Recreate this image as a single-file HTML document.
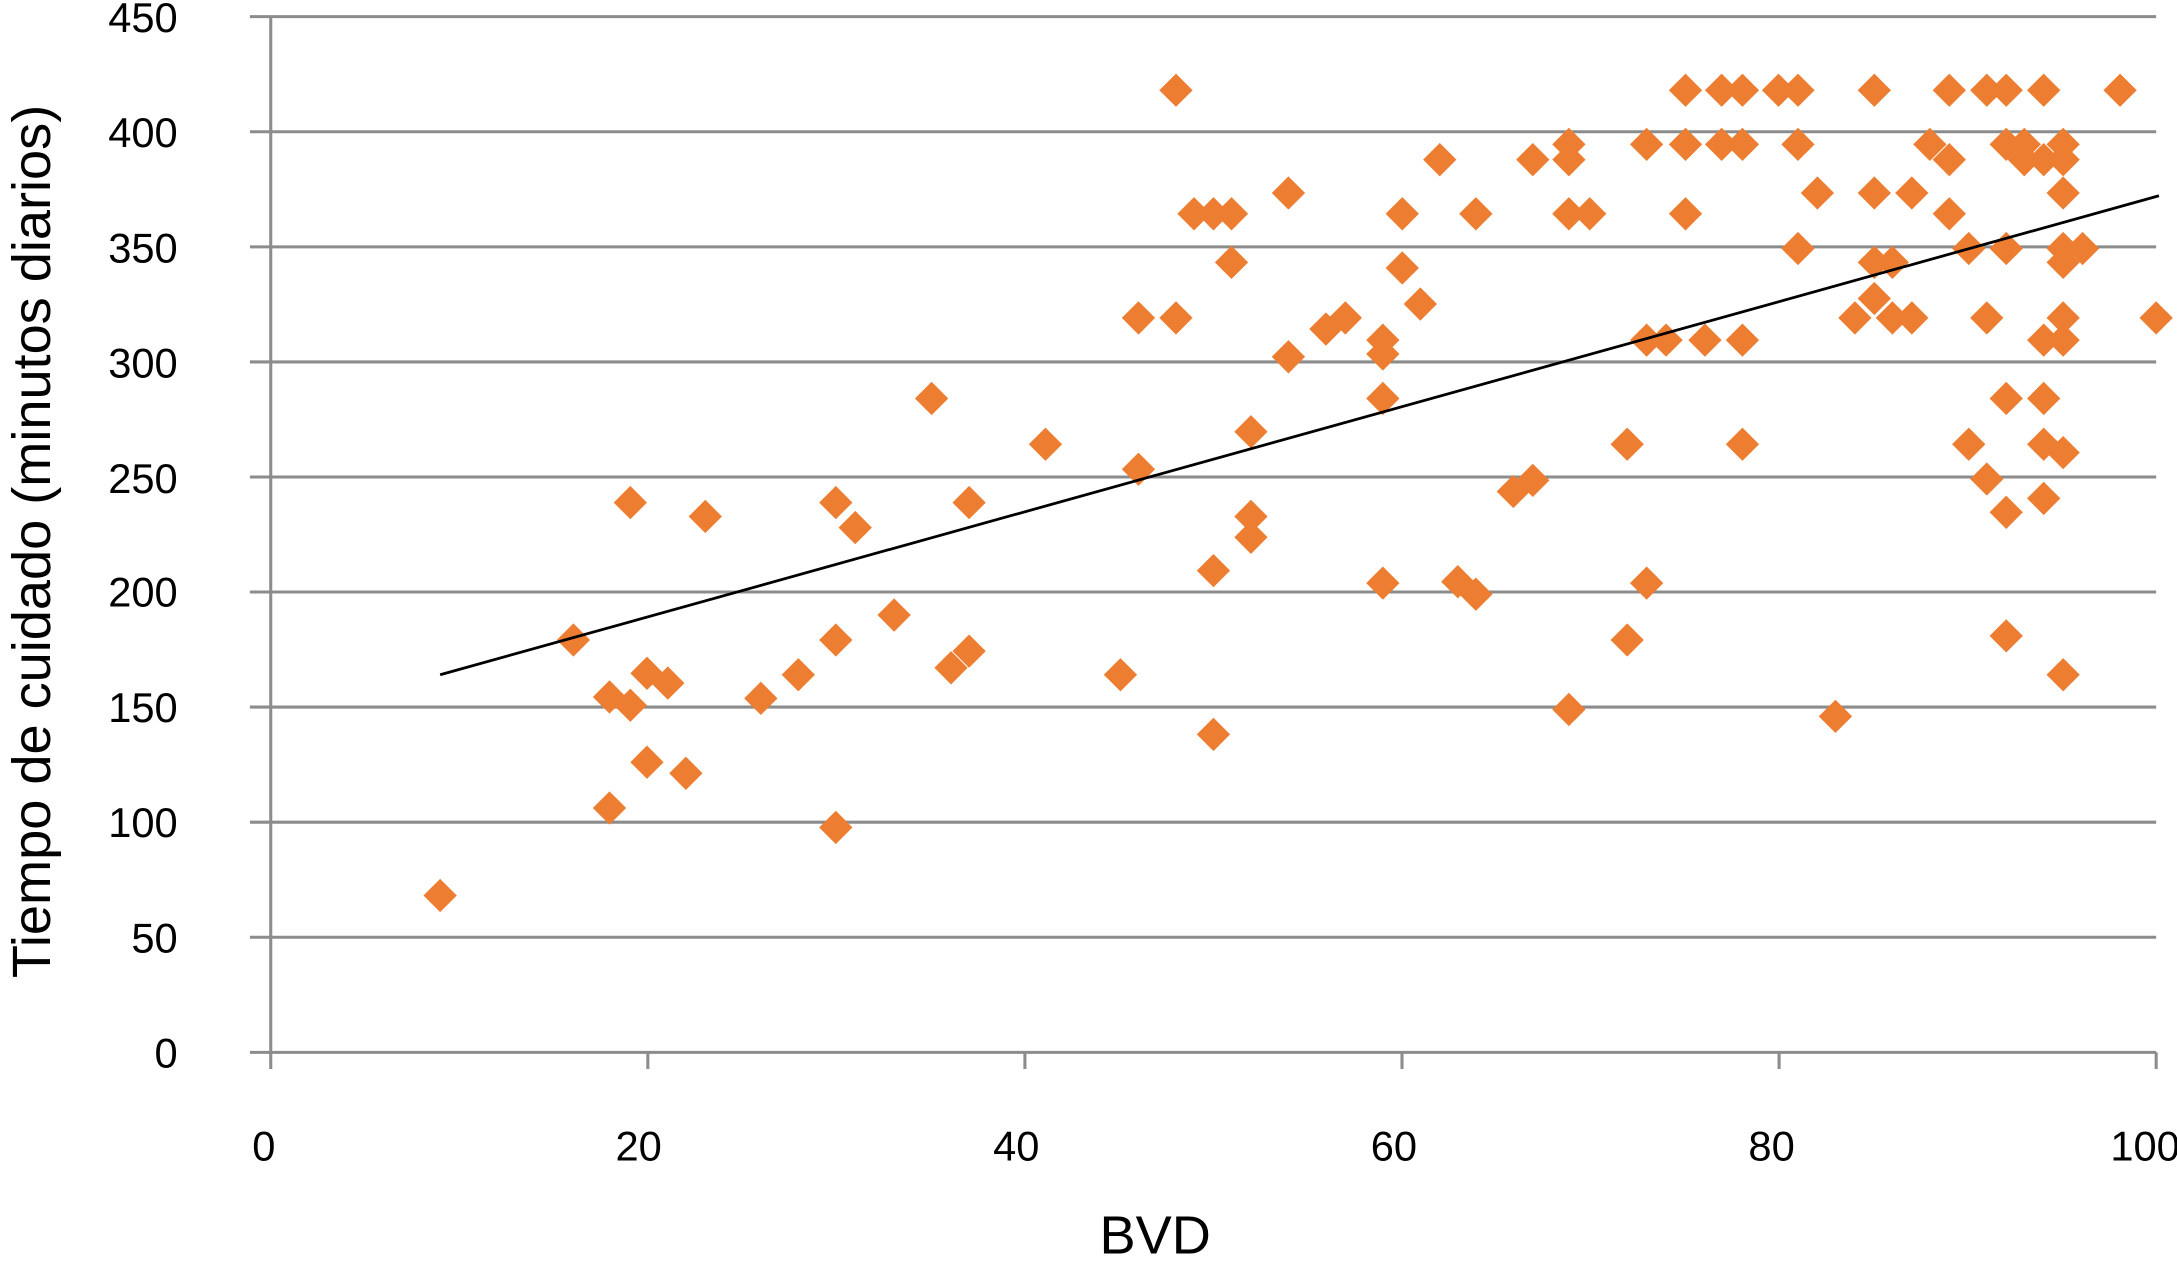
<!DOCTYPE html>
<html><head><meta charset="utf-8"><style>html,body{margin:0;padding:0;background:#fff}svg{display:block}</style></head>
<body>
<svg width="2177" height="1267" viewBox="0 0 1568 912.6" preserveAspectRatio="none" xmlns="http://www.w3.org/2000/svg" font-family="Liberation Sans, Arial, sans-serif">
<defs><path id="d" d="M0,-12 L12,0 L0,12 L-12,0 Z" fill="#ed7d31"/></defs>
<g stroke="#8c8c8c" stroke-width="2.2">
<line x1="180" y1="12" x2="1553" y2="12"/>
<line x1="180" y1="94.9" x2="1553" y2="94.9"/>
<line x1="180" y1="177.8" x2="1553" y2="177.8"/>
<line x1="180" y1="260.7" x2="1553" y2="260.7"/>
<line x1="180" y1="343.6" x2="1553" y2="343.6"/>
<line x1="180" y1="426.4" x2="1553" y2="426.4"/>
<line x1="180" y1="509.3" x2="1553" y2="509.3"/>
<line x1="180" y1="592.2" x2="1553" y2="592.2"/>
<line x1="180" y1="675.1" x2="1553" y2="675.1"/>
<line x1="180" y1="758" x2="1553" y2="758"/>
<line x1="195" y1="12" x2="195" y2="770"/>
<line x1="466.6" y1="758" x2="466.6" y2="770"/>
<line x1="738.2" y1="758" x2="738.2" y2="770"/>
<line x1="1009.8" y1="758" x2="1009.8" y2="770"/>
<line x1="1281.4" y1="758" x2="1281.4" y2="770"/>
<line x1="1553" y1="758" x2="1553" y2="770"/>
</g>
<g font-size="30" text-anchor="end" fill="#000">
<text x="128" y="23">450</text><text x="128" y="106">400</text><text x="128" y="189">350</text><text x="128" y="272">300</text><text x="128" y="355">250</text><text x="128" y="437">200</text><text x="128" y="520">150</text><text x="128" y="603">100</text><text x="128" y="686">50</text><text x="128" y="769">0</text>
</g>
<g font-size="30" text-anchor="middle" fill="#000">
<text x="190" y="836">0</text><text x="460" y="836">20</text><text x="732" y="836">40</text><text x="1004" y="836">60</text><text x="1276" y="836">80</text><text x="1545" y="836">100</text>
</g>
<text x="832" y="903" font-size="39" text-anchor="middle">BVD</text>
<text transform="translate(36,390) rotate(-90)" font-size="39" text-anchor="middle">Tiempo de cuidado (minutos diarios)</text>
<g>
<use href="#d" x="317" y="645"/><use href="#d" x="413" y="461"/><use href="#d" x="439" y="502"/><use href="#d" x="439" y="582"/><use href="#d" x="454" y="362"/><use href="#d" x="454" y="508"/><use href="#d" x="466" y="485"/><use href="#d" x="466" y="549"/><use href="#d" x="481" y="492"/><use href="#d" x="494" y="557"/><use href="#d" x="508" y="372"/><use href="#d" x="548" y="503"/><use href="#d" x="575" y="486"/><use href="#d" x="602" y="362"/><use href="#d" x="602" y="461"/><use href="#d" x="602" y="596"/><use href="#d" x="616" y="380"/><use href="#d" x="644" y="443"/><use href="#d" x="671" y="287"/><use href="#d" x="685" y="481"/><use href="#d" x="698" y="362"/><use href="#d" x="698" y="469"/><use href="#d" x="753" y="320"/><use href="#d" x="807" y="486"/><use href="#d" x="820" y="338"/><use href="#d" x="820" y="229"/><use href="#d" x="847" y="65"/><use href="#d" x="847" y="229"/><use href="#d" x="860" y="154"/><use href="#d" x="874" y="154"/><use href="#d" x="874" y="411"/><use href="#d" x="874" y="529"/><use href="#d" x="887" y="154"/><use href="#d" x="887" y="189"/><use href="#d" x="901" y="311"/><use href="#d" x="901" y="372"/><use href="#d" x="901" y="387"/><use href="#d" x="928" y="139"/><use href="#d" x="928" y="257"/><use href="#d" x="955" y="237"/><use href="#d" x="969" y="229"/><use href="#d" x="996" y="245"/><use href="#d" x="996" y="255"/><use href="#d" x="996" y="287"/><use href="#d" x="996" y="420"/><use href="#d" x="1010" y="193"/><use href="#d" x="1010" y="154"/><use href="#d" x="1023" y="219"/><use href="#d" x="1037" y="115"/><use href="#d" x="1050" y="419"/><use href="#d" x="1063" y="428"/><use href="#d" x="1063" y="154"/><use href="#d" x="1090" y="354"/><use href="#d" x="1104" y="346"/><use href="#d" x="1104" y="115"/><use href="#d" x="1130" y="104"/><use href="#d" x="1130" y="115"/><use href="#d" x="1130" y="154"/><use href="#d" x="1130" y="511"/><use href="#d" x="1145" y="154"/><use href="#d" x="1172" y="461"/><use href="#d" x="1172" y="320"/><use href="#d" x="1186" y="104"/><use href="#d" x="1186" y="245"/><use href="#d" x="1186" y="420"/><use href="#d" x="1200" y="245"/><use href="#d" x="1214" y="65"/><use href="#d" x="1214" y="104"/><use href="#d" x="1214" y="154"/><use href="#d" x="1228" y="245"/><use href="#d" x="1240" y="65"/><use href="#d" x="1240" y="104"/><use href="#d" x="1255" y="65"/><use href="#d" x="1255" y="104"/><use href="#d" x="1255" y="245"/><use href="#d" x="1255" y="320"/><use href="#d" x="1281" y="65"/><use href="#d" x="1295" y="65"/><use href="#d" x="1295" y="104"/><use href="#d" x="1295" y="179"/><use href="#d" x="1309" y="139"/><use href="#d" x="1322" y="516"/><use href="#d" x="1336" y="229"/><use href="#d" x="1350" y="65"/><use href="#d" x="1350" y="139"/><use href="#d" x="1350" y="189"/><use href="#d" x="1350" y="215"/><use href="#d" x="1363" y="189"/><use href="#d" x="1363" y="229"/><use href="#d" x="1377" y="139"/><use href="#d" x="1377" y="229"/><use href="#d" x="1390" y="104"/><use href="#d" x="1404" y="65"/><use href="#d" x="1404" y="115"/><use href="#d" x="1404" y="154"/><use href="#d" x="1418" y="179"/><use href="#d" x="1418" y="320"/><use href="#d" x="1431" y="65"/><use href="#d" x="1431" y="229"/><use href="#d" x="1431" y="345"/><use href="#d" x="1445" y="65"/><use href="#d" x="1445" y="104"/><use href="#d" x="1445" y="179"/><use href="#d" x="1445" y="287"/><use href="#d" x="1445" y="369"/><use href="#d" x="1445" y="458"/><use href="#d" x="1458" y="104"/><use href="#d" x="1458" y="115"/><use href="#d" x="1472" y="65"/><use href="#d" x="1472" y="115"/><use href="#d" x="1472" y="245"/><use href="#d" x="1472" y="287"/><use href="#d" x="1472" y="320"/><use href="#d" x="1472" y="359"/><use href="#d" x="1486" y="104"/><use href="#d" x="1486" y="115"/><use href="#d" x="1486" y="139"/><use href="#d" x="1486" y="179"/><use href="#d" x="1486" y="189"/><use href="#d" x="1486" y="229"/><use href="#d" x="1486" y="245"/><use href="#d" x="1486" y="326"/><use href="#d" x="1486" y="486"/><use href="#d" x="1500" y="179"/><use href="#d" x="1527" y="65"/><use href="#d" x="1553" y="229"/>
</g>
<line x1="317" y1="486" x2="1555" y2="141" stroke="#000" stroke-width="2"/>
</svg>
</body></html>
